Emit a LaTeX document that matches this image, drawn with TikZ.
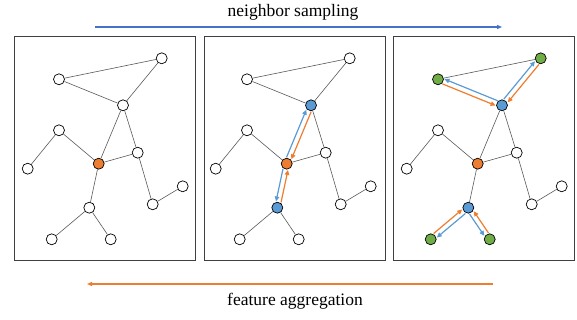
\documentclass[tikz,border=0pt]{standalone}
\usepackage{fontspec}
\setmainfont{Liberation Serif}
\usetikzlibrary{arrows.meta,positioning}
\definecolor{nbBlue}{HTML}{5B9BD5}
\definecolor{nbOrange}{HTML}{ED7D31}
\definecolor{nbGreen}{HTML}{70AD47}
\definecolor{flowBlue}{HTML}{4472C4}
\tikzset{%
  vertex/.style={circle, draw=black, fill=white, line width=0.7pt, minimum size=11pt, inner sep=0pt},
  seed/.style={vertex, fill=nbOrange},
  blueVertex/.style={vertex, fill=nbBlue},
  greenVertex/.style={vertex, fill=nbGreen},
  % which hop gets which colour in each panel
  hopone1/.style={vertex},
  hopone2/.style={blueVertex},
  hopone3/.style={blueVertex},
  hoptwo1/.style={vertex},
  hoptwo2/.style={vertex},
  hoptwo3/.style={greenVertex},
  %
  link/.style={draw=black!65, line width=0.6pt},
  % plain edge unless arrows take its place
  linkone1/.style={link},
  linkone2/.style={draw=none},
  linkone3/.style={link},
  linktwo1/.style={link},
  linktwo2/.style={link},
  linktwo3/.style={draw=none},
  %
  panel/.style={draw=black!75, line width=1pt},
  sample/.style={draw=nbBlue, line width=1.2pt, -{Triangle[length=5pt,width=4.5pt]}},
  aggregate/.style={draw=nbOrange, line width=1.2pt, -{Triangle[length=5pt,width=4.5pt]}},
  caption/.style={font=\fontsize{17.5}{20}\selectfont}
}

\begin{document}
\begin{tikzpicture}[x=1pt,y=-1pt]
  \useasboundingbox (0,0) rectangle (577,320);

  % panels
  \draw[panel] (14,37) rectangle (195,260);
  \draw[panel] (204,37) rectangle (385,260);
  \draw[panel] (393,37) rectangle (574,260);

  % the same graph three times
  \foreach \p/\dx in {1/0,2/188,3/379}{
    \begin{scope}[xshift=\dx pt]
      \node[hoptwo\p] (a\p) at (161.7,58.3) {};
      \node[hoptwo\p] (b\p) at (59,79.3) {};
      \node[hopone\p] (c\p) at (123,105.3) {};
      \node[vertex] (d\p) at (59,130.3) {};
      \node[seed] (e\p) at (98.7,163.7) {};
      \node[vertex] (f\p) at (137.7,152.7) {};
      \node[vertex] (g\p) at (27.7,168.7) {};
      \node[vertex] (h\p) at (182.7,186.3) {};
      \node[vertex] (i\p) at (152.7,204.3) {};
      \node[hopone\p] (j\p) at (89.3,207.7) {};
      \node[hoptwo\p] (k\p) at (51.7,239.3) {};
      \node[hoptwo\p] (l\p) at (110.7,239.3) {};

      \draw[link] (b\p) -- (a\p);
      \draw[linktwo\p] (b\p) -- (c\p);
      \draw[linktwo\p] (a\p) -- (c\p);
      \draw[linkone\p] (c\p) -- (e\p);
      \draw[link] (c\p) -- (f\p);
      \draw[link] (d\p) -- (e\p);
      \draw[link] (d\p) -- (g\p);
      \draw[link] (e\p) -- (f\p);
      \draw[link] (f\p) -- (i\p);
      \draw[link] (i\p) -- (h\p);
      \draw[linkone\p] (e\p) -- (j\p);
      \draw[linktwo\p] (j\p) -- (k\p);
      \draw[linktwo\p] (j\p) -- (l\p);
    \end{scope}
  }

  % first hop
  \draw[sample, transform canvas={shift={(-2.4,-1)}}] (e2) -- (c2);
  \draw[aggregate, transform canvas={shift={(2.4,1)}}] (c2) -- (e2);
  \draw[sample, transform canvas={shift={(-2.5,-0.5)}}] (e2) -- (j2);
  \draw[aggregate, transform canvas={shift={(2.5,0.5)}}] (j2) -- (e2);

  % second hop
  \draw[sample, transform canvas={shift={(-2,-1.6)}}] (c3) -- (a3);
  \draw[aggregate, transform canvas={shift={(2,1.6)}}] (a3) -- (c3);
  \draw[sample, transform canvas={shift={(1,-2.4)}}] (c3) -- (b3);
  \draw[aggregate, transform canvas={shift={(-1,2.4)}}] (b3) -- (c3);
  \draw[sample, transform canvas={shift={(1.6,2)}}] (j3) -- (k3);
  \draw[aggregate, transform canvas={shift={(-1.6,-2)}}] (k3) -- (j3);
  \draw[sample, transform canvas={shift={(-2.1,1.4)}}] (j3) -- (l3);
  \draw[aggregate, transform canvas={shift={(2.1,-1.4)}}] (l3) -- (j3);

  % direction labels
  \coordinate (s0) at (95,27);
  \coordinate (s1) at (502,27);
  \draw[draw=flowBlue, line width=1.1pt, -{Triangle[length=5pt,width=4pt]}] (s0) -- (s1);
  \node[caption] (sampling) at (293,12) {neighbor sampling};

  \coordinate (g0) at (493,284);
  \coordinate (g1) at (87,284);
  \draw[draw=nbOrange, line width=1.1pt, -{Triangle[length=5pt,width=4pt]}] (g0) -- (g1);
  \node[caption] (aggregation) at (295,301) {feature aggregation};
\end{tikzpicture}
\end{document}
